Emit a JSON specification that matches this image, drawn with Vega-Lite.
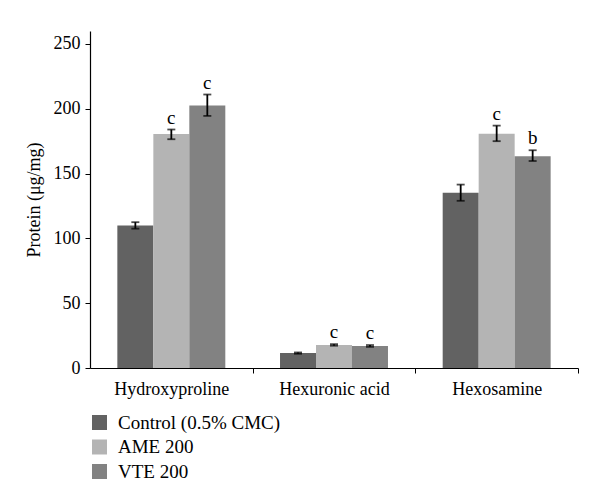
{
  "$schema": "https://vega.github.io/schema/vega-lite/v6.json",
  "width": 488,
  "height": 337,
  "autosize": {"type": "none"},
  "padding": {"left": 90, "top": 31, "right": 22, "bottom": 136},
  "background": "white",
  "config": {
    "view": {"stroke": null},
    "font": "Liberation Serif",
    "axis": {"labelFont": "Liberation Serif", "titleFont": "Liberation Serif", "labelColor": "black", "titleColor": "black", "domainColor": "black", "tickColor": "black"},
    "legend": {"labelFont": "Liberation Serif"}
  },
  "data": {
    "values": [
      {"category": "Hydroxyproline", "group": "Control (0.5% CMC)", "value": 110, "lo": 107.5, "hi": 112.5, "letter": ""},
      {"category": "Hydroxyproline", "group": "AME 200", "value": 180.5, "lo": 176.5, "hi": 184, "letter": "c"},
      {"category": "Hydroxyproline", "group": "VTE 200", "value": 202.5, "lo": 194.5, "hi": 211, "letter": "c"},
      {"category": "Hexuronic acid", "group": "Control (0.5% CMC)", "value": 11.5, "lo": 11, "hi": 12, "letter": ""},
      {"category": "Hexuronic acid", "group": "AME 200", "value": 17.8, "lo": 17.2, "hi": 18.4, "letter": "c"},
      {"category": "Hexuronic acid", "group": "VTE 200", "value": 17, "lo": 16.3, "hi": 17.7, "letter": "c"},
      {"category": "Hexosamine", "group": "Control (0.5% CMC)", "value": 135.3, "lo": 129, "hi": 141.5, "letter": ""},
      {"category": "Hexosamine", "group": "AME 200", "value": 180.8, "lo": 175, "hi": 187, "letter": "c"},
      {"category": "Hexosamine", "group": "VTE 200", "value": 163.4, "lo": 159.7, "hi": 168, "letter": "b"}
    ]
  },
  "encoding": {
    "x": {
      "field": "category",
      "type": "nominal",
      "sort": ["Hydroxyproline", "Hexuronic acid", "Hexosamine"],
      "scale": {"paddingInner": 0, "paddingOuter": 0},
      "axis": {"title": null, "labelAngle": 0, "labelFontSize": 18, "tickOffset": 81.33, "labelOffset": -81.33, "tickSize": 5, "labelPadding": 7, "domainWidth": 1.2}
    },
    "xOffset": {
      "field": "group",
      "type": "nominal",
      "sort": ["Control (0.5% CMC)", "AME 200", "VTE 200"],
      "scale": {"paddingInner": 0, "paddingOuter": 0.76}
    }
  },
  "layer": [
    {
      "mark": {"type": "bar"},
      "encoding": {
        "y": {
          "field": "value",
          "type": "quantitative",
          "scale": {"domain": [0, 250]},
          "axis": {"title": "Protein (μg/mg)", "titleFontSize": 18, "titleFontWeight": "normal", "labelFontSize": 18, "values": [0, 50, 100, 150, 200, 250], "grid": false, "tickSize": 5, "labelPadding": 5, "titlePadding": 10, "domainWidth": 1.2}
        },
        "color": {
          "field": "group",
          "type": "nominal",
          "sort": ["Control (0.5% CMC)", "AME 200", "VTE 200"],
          "scale": {"domain": ["Control (0.5% CMC)", "AME 200", "VTE 200"], "range": ["#626262", "#b4b4b4", "#828282"]},
          "legend": {"title": null, "orient": "none", "legendX": 0, "legendY": 382, "direction": "vertical", "symbolType": "square", "symbolSize": 225, "symbolStrokeWidth": 0, "labelFontSize": 19, "labelLimit": 400, "rowPadding": 4.5, "labelOffset": 9, "labelColor": "black"}
        }
      }
    },
    {
      "mark": {"type": "rule", "color": "black", "strokeWidth": 1.8},
      "encoding": {
        "y": {"field": "lo", "type": "quantitative"},
        "y2": {"field": "hi"}
      }
    },
    {
      "mark": {"type": "tick", "color": "black", "thickness": 1.8, "size": 8},
      "encoding": {"y": {"field": "lo", "type": "quantitative"}}
    },
    {
      "mark": {"type": "tick", "color": "black", "thickness": 1.8, "size": 8},
      "encoding": {"y": {"field": "hi", "type": "quantitative"}}
    },
    {
      "mark": {"type": "text", "dy": -12, "fontSize": 19, "color": "black", "font": "Liberation Serif"},
      "encoding": {
        "y": {"field": "hi", "type": "quantitative"},
        "text": {"field": "letter"}
      }
    }
  ]
}
